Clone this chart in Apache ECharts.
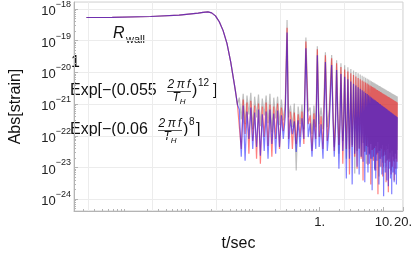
<!DOCTYPE html>
<html><head><meta charset="utf-8">
<script src="https://cdn.jsdelivr.net/npm/echarts@6/dist/echarts.min.js"></script>
<style>html,body{margin:0;padding:0;background:#fff}#c{width:415px;height:257px}</style>
</head><body><div id="c"></div>
<script>
// plateau + merger drop (shared by all three curves)
const earlyT = [2.28e-4, 5.77e-4, 2.28e-3, 6.39e-3, 0.0127, 0.0151, 0.0180, 0.0206, 0.0236, 0.0271, 0.0311, 0.0357, 0.0409, 0.0454, 0.0486, 0.0520];
const earlyV = [5.37e-19, 5.44e-19, 5.77e-19, 6.37e-19, 7.35e-19, 7.78e-19, 8.07e-19, 7.51e-19, 6.05e-19, 3.94e-19, 2.07e-19, 8.17e-20, 2.10e-20, 5.78e-21, 2.45e-21, 9.66e-22];
// noisy part before / between the first echoes
const gapT = [0.0557, 0.0597, 0.0640, 0.0685, 0.0734, 0.0786, 0.0842, 0.0902, 0.0966, 0.1035, 0.1109, 0.1188, 0.1272, 0.1363, 0.1460, 0.1563, 0.1675, 0.1794, 0.1921, 0.2058, 0.2204, 0.2360, 0.2529, 0.2709, 0.2902,
  0.3272, 0.3505, 0.3755, 0.4022, 0.4308, 0.4615, 0.4943, 0.5295, 0.5672,
  0.6623, 0.7092, 0.7596, 0.8137, 0.8716,
  0.983, 1.053, 1.128,
  1.316, 1.410];
const grayGap = [1.59e-21, 3.3e-22, 2.12e-21, 2.31e-22, 1.84e-21, 4.72e-22, 2.27e-21, 1.61e-22, 1.71e-21, 3.8e-22, 1.98e-21, 2.0e-22, 1.48e-21, 4.39e-22, 1.84e-21, 2.48e-22, 2.12e-21, 1.3e-22, 1.59e-21, 3.54e-22, 1.71e-21, 2.15e-22, 1.38e-21, 3.07e-22, 1.04e-21,
  3.8e-22, 9.0e-22, 1.86e-22, 1.04e-21, 8.0e-24, 8.4e-22, 2.31e-22, 9.66e-22, 1.61e-22,
  5.85e-22, 7.8e-22, 1.13e-22, 9.0e-22, 1.86e-22,
  2.31e-22, 7.8e-22, 1.61e-22,
  1.86e-22, 6.75e-22];
const redGap = [1.04e-21, 3.85e-23, 1.38e-21, 1.13e-22, 1.11e-21, 2.7e-23, 1.28e-21, 6.83e-23, 9.0e-22, 1.88e-23, 1.04e-21, 1.32e-23, 8.4e-22, 9.1e-23, 1.11e-21, 4.78e-23, 9.66e-22, 2.17e-23, 8.4e-22, 7.88e-23, 1.04e-21, 3.85e-23, 7.8e-22, 1.4e-22, 6.75e-22,
  7.88e-23, 5.85e-22, 3.85e-23, 5.44e-22, 5.51e-23, 4.72e-22, 9.1e-23, 5.85e-22, 5.51e-23,
  2.31e-22, 4.39e-22, 3.34e-23, 5.07e-22, 7.88e-23,
  9.1e-23, 4.09e-22, 3.85e-23,
  6.83e-23, 3.3e-22];
const blueGap = [6.75e-22, 2.17e-23, 9.0e-22, 1.63e-23, 5.85e-22, 7.88e-23, 7.8e-22, 3.85e-23, 5.44e-22, 4.45e-23, 6.75e-22, 2.34e-23, 4.72e-22, 3.34e-23, 5.85e-22, 1.88e-23, 6.75e-22, 5.51e-23, 5.07e-22, 2.7e-23, 6.28e-22, 4.45e-23, 4.39e-22, 7.88e-23, 3.8e-22,
  3.85e-23, 3.3e-22, 1.13e-22, 2.86e-22, 3.11e-23, 3.07e-22, 4.45e-23, 3.54e-22, 7.88e-23,
  9.1e-23, 2.48e-22, 2.17e-23, 3.3e-22, 3.85e-23,
  4.45e-23, 2.31e-22, 1.88e-23,
  3.34e-23, 1.86e-22];
// echo peaks
const echoT = [0.31, 0.61, 0.92, 1.23, 1.54, 1.84, 2.15, 2.46, 2.76, 3.07, 3.38, 3.68, 3.99, 4.30, 4.61, 4.91, 5.22, 5.53, 5.83, 6.14, 6.45, 6.75, 7.06, 7.37, 7.68, 7.98, 8.29, 8.60, 8.90, 9.21, 9.52, 9.82, 10.13, 10.44, 10.75, 11.05, 11.36, 11.67, 11.97, 12.28, 12.59, 12.89, 13.20, 13.51, 13.82, 14.12, 14.43, 14.74, 15.04, 15.35, 15.66, 15.96, 16.27];
const grayPeak = [4.5e-19, 1.26e-19, 6.6e-20, 4.3e-20, 3.5e-20, 2.4e-20, 1.95e-20, 1.67e-20, 1.45e-20, 1.28e-20, 1.14e-20, 1.03e-20, 9.3e-21, 8.5e-21, 7.87e-21, 7.27e-21, 6.72e-21, 6.30e-21, 5.90e-21, 5.53e-21, 5.22e-21, 4.93e-21, 4.70e-21, 4.47e-21, 4.25e-21, 4.07e-21, 3.87e-21, 3.71e-21, 3.56e-21, 3.40e-21, 3.28e-21, 3.15e-21, 3.03e-21, 2.95e-21, 2.82e-21, 2.75e-21, 2.65e-21, 2.58e-21, 2.50e-21, 2.41e-21, 2.34e-21, 2.28e-21, 2.21e-21, 2.15e-21, 2.09e-21, 2.05e-21, 1.99e-21, 1.93e-21, 1.89e-21, 1.85e-21, 1.81e-21, 1.76e-21, 1.73e-21];
const redPeak = [2.56e-19, 9.42e-20, 5.32e-20, 3.46e-20, 2.79e-20, 1.95e-20, 1.47e-20, 1.24e-20, 1.06e-20, 9.33e-21, 8.26e-21, 7.43e-21, 6.67e-21, 6.08e-21, 5.57e-21, 5.15e-21, 4.76e-21, 4.44e-21, 4.13e-21, 3.87e-21, 3.63e-21, 3.43e-21, 3.24e-21, 3.08e-21, 2.90e-21, 2.79e-21, 2.65e-21, 2.52e-21, 2.41e-21, 2.31e-21, 2.21e-21, 2.12e-21, 2.05e-21, 1.98e-21, 1.91e-21, 1.84e-21, 1.77e-21, 1.71e-21, 1.66e-21, 1.60e-21, 1.55e-21, 1.51e-21, 1.46e-21, 1.42e-21, 1.38e-21, 1.34e-21, 1.30e-21, 1.27e-21, 1.24e-21, 1.21e-21, 1.18e-21, 1.15e-21, 1.12e-21];
const bluePeak = [1.79e-19, 5.71e-20, 3.46e-20, 2.10e-20, 1.69e-20, 1.18e-20, 8.87e-21, 7.27e-21, 6.04e-21, 5.12e-21, 4.40e-21, 3.87e-21, 3.40e-21, 3.03e-21, 2.72e-21, 2.47e-21, 2.25e-21, 2.06e-21, 1.89e-21, 1.74e-21, 1.62e-21, 1.51e-21, 1.40e-21, 1.31e-21, 1.23e-21, 1.16e-21, 1.10e-21, 1.03e-21, 9.79e-22, 9.25e-22, 8.79e-22, 8.37e-22, 8.02e-22, 7.68e-22, 7.31e-22, 7.00e-22, 6.70e-22, 6.43e-22, 6.19e-22, 5.93e-22, 5.72e-22, 5.48e-22, 5.29e-22, 5.11e-22, 4.93e-22, 4.79e-22, 4.62e-22, 4.46e-22, 4.34e-22, 4.18e-22, 4.09e-22, 3.94e-22, 3.84e-22];
// noise floor just after / before echoes 5..24
const shoulderT = [1.62, 1.77, 1.92, 2.07, 2.23, 2.38, 2.54, 2.69, 2.84, 2.99, 3.15, 3.30, 3.46, 3.61, 3.76, 3.91, 4.07, 4.22, 4.38, 4.53, 4.69, 4.84, 4.99, 5.14, 5.30, 5.45, 5.61, 5.76, 5.91, 6.06, 6.22, 6.37, 6.53, 6.68, 6.83, 6.98, 7.14, 7.29, 7.45, 7.60];
const grayShoulder = [5.85e-22, 4.72e-22, 6.75e-22, 3.8e-22, 5.44e-22, 7.25e-22, 4.39e-22, 5.85e-22, 6.75e-22, 4.09e-22, 5.07e-22, 6.28e-22, 7.25e-22, 4.72e-22, 5.44e-22, 6.75e-22, 4.39e-22, 5.85e-22, 7.8e-22, 5.07e-22, 6.28e-22, 5.44e-22, 7.25e-22, 4.39e-22, 5.85e-22, 6.75e-22, 4.72e-22, 6.28e-22, 5.44e-22, 7.25e-22, 4.09e-22, 5.85e-22, 6.75e-22, 5.07e-22, 6.28e-22, 4.72e-22, 7.25e-22, 5.44e-22, 5.85e-22, 6.75e-22];
const redShoulder = [3.8e-22, 2.86e-22, 4.39e-22, 2.31e-22, 3.3e-22, 4.09e-22, 2.48e-22, 3.54e-22, 4.39e-22, 2.66e-22, 3.07e-22, 3.8e-22, 4.72e-22, 2.86e-22, 3.3e-22, 4.09e-22, 2.48e-22, 3.54e-22, 4.39e-22, 3.07e-22, 3.8e-22, 3.3e-22, 4.39e-22, 2.66e-22, 3.54e-22, 4.09e-22, 2.86e-22, 3.8e-22, 3.3e-22, 4.39e-22, 2.48e-22, 3.54e-22, 4.09e-22, 3.07e-22, 3.8e-22, 2.86e-22, 4.39e-22, 3.3e-22, 3.54e-22, 4.09e-22];
const blueShoulder = [2.66e-22, 1.86e-22, 3.07e-22, 1.5e-22, 2.31e-22, 2.86e-22, 1.73e-22, 2.48e-22, 3.07e-22, 2.0e-22, 2.15e-22, 2.66e-22, 3.3e-22, 1.86e-22, 2.31e-22, 2.86e-22, 1.61e-22, 2.48e-22, 3.07e-22, 2.0e-22, 2.66e-22, 2.31e-22, 3.07e-22, 1.73e-22, 2.48e-22, 2.86e-22, 2.0e-22, 2.66e-22, 2.31e-22, 3.07e-22, 1.61e-22, 2.48e-22, 2.86e-22, 2.15e-22, 2.66e-22, 1.86e-22, 3.07e-22, 2.31e-22, 2.48e-22, 2.86e-22];
// troughs between later echoes
const troughT = [1.69, 2.00, 2.30, 2.61, 2.92, 3.22, 3.53, 3.84, 4.14, 4.45, 4.76, 5.07, 5.37, 5.68, 5.99, 6.29, 6.60, 6.91, 7.21, 7.52, 7.83, 8.14, 8.44, 8.75, 9.06, 9.36, 9.67, 9.98, 10.28, 10.59, 10.90, 11.21, 11.51, 11.82, 12.13, 12.43, 12.74, 13.05, 13.35, 13.66, 13.97, 14.27, 14.58, 14.89, 15.20, 15.50, 15.81, 16.12];
const grayTrough = [4.45e-23, 2.7e-23, 6.83e-23, 1.88e-23, 3.85e-23, 5.13e-23, 6.44e-24, 3.34e-23, 4.14e-23, 2.17e-23, 5.92e-23, 3.11e-23, 1.32e-23, 4.45e-23, 2.51e-23, 5.51e-23, 1.88e-23, 3.85e-23, 9.2e-24, 4.78e-23, 2.7e-23, 6.36e-23, 5.2e-24, 3.34e-23, 4.14e-23, 2.17e-23, 5.13e-23, 1.06e-23, 3.59e-23, 2.51e-23, 4.78e-23, 1.63e-23, 3.85e-23, 5.51e-23, 1.88e-23, 2.89e-23, 4.45e-23, 8.0e-24, 3.34e-23, 4.78e-23, 2.17e-23, 3.85e-23, 1.52e-23, 4.45e-23, 2.7e-23, 5.51e-23, 1.88e-23, 3.59e-23];
const redTrough = [3.34e-23, 5.13e-23, 1.32e-23, 3.85e-23, 6.0e-24, 4.45e-23, 2.17e-23, 9.2e-24, 3.85e-23, 1.88e-23, 3.9e-24, 3.11e-23, 4.78e-23, 1.23e-23, 2.7e-23, 2.93e-24, 3.59e-23, 1.63e-23, 4.14e-23, 8.0e-24, 2.51e-23, 1.43e-24, 3.34e-23, 1.88e-23, 1.06e-23, 3.85e-23, 5.2e-24, 2.34e-23, 3.11e-23, 1.41e-23, 3.4e-24, 3.59e-23, 1.75e-23, 1.66e-24, 2.7e-23, 1.52e-23, 3.85e-23, 6.0e-24, 2.17e-23, 1.06e-23, 3.11e-23, 1.63e-23, 3.9e-24, 2.7e-23, 1.88e-23, 9.2e-24, 3.34e-23, 1.52e-23];
const blueTrough = [2.17e-23, 9.2e-24, 3.34e-23, 4.5e-24, 1.88e-23, 2.93e-24, 2.7e-23, 1.06e-23, 6.0e-24, 2.17e-23, 1.52e-23, 3.4e-24, 2.51e-23, 6.9e-24, 1.32e-23, 1.88e-23, 1.91e-24, 2.17e-23, 8.0e-24, 4.5e-24, 1.63e-23, 2.89e-23, 2.93e-24, 1.06e-23, 1.88e-23, 6.0e-24, 1.41e-23, 1.24e-24, 2.34e-23, 6.9e-24, 1.06e-23, 3.9e-24, 1.63e-23, 2.54e-24, 9.2e-24, 1.88e-23, 4.5e-24, 1.06e-23, 1.43e-24, 1.41e-23, 6.9e-24, 1.63e-23, 3.4e-24, 1.06e-23, 6.0e-24, 1.88e-23, 2.93e-24, 9.2e-24];

const yTicks = [1e-24, 1e-23, 1e-22, 1e-21, 1e-20, 1e-19, 1e-18];
const xTickLabels = [1, 10, 20];
const xGrid = [2.45e-4, 2.45e-3, 0.0245, 0.245, 2.45];
const X_MIN = 1.46e-4, X_MAX = 20, Y_MIN = 4.24e-25, Y_MAX = 1.65e-18;

function build(gap, peak, shoulder, trough) {
  const pts = [];
  earlyT.forEach((t, i) => pts.push([t, earlyV[i]]));
  gapT.forEach((t, i) => pts.push([t, gap[i]]));
  echoT.forEach((t, i) => pts.push([t, peak[i]]));
  shoulderT.forEach((t, i) => pts.push([t, shoulder[i]]));
  troughT.forEach((t, i) => pts.push([t, trough[i]]));
  pts.sort((a, b) => a[0] - b[0]);
  return pts;
}
function minorVals(lo, hi, kLo, kHi) {
  const out = [];
  for (let k = kLo; k <= kHi; k++) for (let m = 2; m <= 9; m++) {
    const v = m * Math.pow(10, k);
    if (v > lo && v < hi) out.push(v);
  }
  return out;
}
const FONT = 'Liberation Sans, Arial, sans-serif';
const frame = '#b4b4b4';
const ink = '#111';
const chart = echarts.init(document.getElementById('c'), null, {renderer: 'canvas'});
const sup = {fontSize: 9, lineHeight: 9, verticalAlign: 'top', fontFamily: FONT, color: '#222'};
const fracNum = {text: '2\u2009\u03c0\u2009{i|f}', rich: {i: {fontStyle: 'italic', fontSize: 12, fontFamily: FONT}}, fontFamily: FONT, fontSize: 12, fontStyle: 'italic', fill: ink, align: 'center', verticalAlign: 'middle'};
const fracDen = {text: '{i|T}{s|H}', rich: {i: {fontStyle: 'italic', fontSize: 12, fontFamily: FONT}, s: {fontStyle: 'italic', fontSize: 8, fontFamily: FONT, verticalAlign: 'bottom', lineHeight: 15}}, fill: ink, align: 'center', verticalAlign: 'middle'};
function txt(x, y, s, size) {
  return {type: 'text', x: x, y: y, style: {text: s, fontFamily: FONT, fontSize: size, fill: ink, verticalAlign: 'middle'}};
}
chart.setOption({
  animation: false,
  grid: {left: 60, right: 11, top: 1, bottom: 44, show: true, borderColor: '#cfcfcf', borderWidth: 1},
  xAxis: [
    {type: 'log', logBase: 10, min: X_MIN, max: X_MAX, position: 'bottom',
     name: 't/sec', nameLocation: 'middle', nameGap: 25,
     nameTextStyle: {fontFamily: FONT, fontSize: 16, color: ink},
     axisLine: {lineStyle: {color: frame}},
     axisTick: {inside: true, length: 4, customValues: xTickLabels, lineStyle: {color: frame}},
     axisLabel: {customValues: xTickLabels, formatter: v => String(Math.round(v)) + '.', fontFamily: FONT, fontSize: 13, color: '#222', margin: 5},
     splitLine: {show: false}},
    {type: 'log', logBase: 10, min: X_MIN, max: X_MAX, position: 'bottom',
     axisLine: {show: false}, axisLabel: {show: false}, splitLine: {show: false},
     axisTick: {inside: true, length: 2, customValues: minorVals(X_MIN, X_MAX, -4, 1), lineStyle: {color: frame}}},
    {type: 'log', logBase: 10, min: X_MIN, max: X_MAX, position: 'bottom',
     axisLine: {show: false}, axisLabel: {show: false},
     axisTick: {show: false, customValues: xGrid},
     splitLine: {show: true, customValues: xGrid, lineStyle: {color: '#ececec', width: 1}}}
  ],
  yAxis: [
    {type: 'log', logBase: 10, min: Y_MIN, max: Y_MAX, position: 'left',
     name: 'Abs[strain]', nameLocation: 'middle', nameGap: 50, nameRotate: 90,
     nameTextStyle: {fontFamily: FONT, fontSize: 16, color: ink},
     axisLine: {lineStyle: {color: frame}},
     axisTick: {inside: true, length: 4, customValues: yTicks, lineStyle: {color: frame}},
     splitLine: {show: true, lineStyle: {color: '#ececec'}},
     axisLabel: {customValues: yTicks, margin: 3,
       formatter: v => '{b|10}{s|\u2212' + Math.round(-Math.log10(v)) + '}',
       rich: {b: {fontSize: 13, lineHeight: 18, verticalAlign: 'bottom', fontFamily: FONT, color: '#222'}, s: sup}}},
    {type: 'log', logBase: 10, min: Y_MIN, max: Y_MAX, position: 'left',
     axisLine: {show: false}, axisLabel: {show: false}, splitLine: {show: false},
     axisTick: {inside: true, length: 2, customValues: minorVals(Y_MIN, Y_MAX, -25, -19), lineStyle: {color: frame}}}
  ],
  series: [
    {name: '1', type: 'line', data: build(grayGap, grayPeak, grayShoulder, grayTrough), showSymbol: false,
     lineStyle: {color: 'rgba(128,128,128,0.5)', width: 1.2}, z: 2},
    {name: 'exp12', type: 'line', data: build(redGap, redPeak, redShoulder, redTrough), showSymbol: false,
     lineStyle: {color: 'rgba(255,0,0,0.5)', width: 1.2}, z: 3},
    {name: 'exp8', type: 'line', data: build(blueGap, bluePeak, blueShoulder, blueTrough), showSymbol: false,
     lineStyle: {color: 'rgba(0,0,255,0.5)', width: 1.2}, z: 4}
  ],
  graphic: [
    {type: 'text', x: 113, y: 34, style: {text: 'R', fontFamily: FONT, fontSize: 16, fontStyle: 'italic', fill: ink, verticalAlign: 'middle'}},
    txt(126, 40, 'wall', 11),
    txt(71, 63, '1', 16),
    // formula 1
    txt(70, 91, 'Exp[\u2212(0.055', 16),
    {type: 'text', x: 179, y: 85, style: fracNum},
    {type: 'line', shape: {x1: 167, y1: 91.5, x2: 191, y2: 91.5}, style: {stroke: ink, lineWidth: 0.7}},
    {type: 'text', x: 179, y: 98, style: fracDen},
    txt(192, 91, ')', 16),
    txt(198, 83, '12', 10),
    txt(213, 91, ']', 16),
    // formula 2
    txt(70, 130, 'Exp[\u2212(0.06', 16),
    {type: 'text', x: 170, y: 124, style: fracNum},
    {type: 'line', shape: {x1: 158, y1: 130.5, x2: 182, y2: 130.5}, style: {stroke: ink, lineWidth: 0.7}},
    {type: 'text', x: 170, y: 137, style: fracDen},
    txt(183, 130, ')', 16),
    txt(189, 122, '8', 10),
    txt(196, 130, ']', 16)
  ]
});
</script></body></html>
